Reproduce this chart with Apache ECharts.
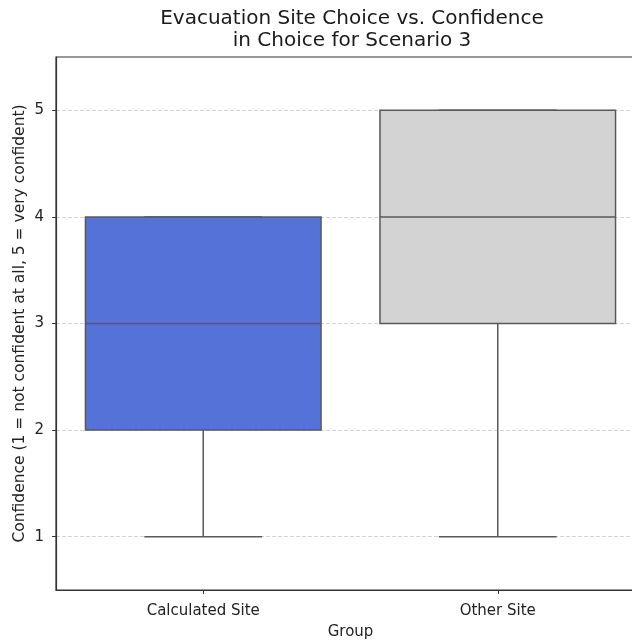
<!DOCTYPE html>
<html>
<head>
<meta charset="utf-8">
<script src="https://cdn.jsdelivr.net/npm/echarts@6/dist/echarts.min.js"></script>
<style>
  html, body { margin: 0; padding: 0; background: #fff; overflow: hidden; }
  /* the drawing surface runs a little past the right window edge, so the plot's right border is off-screen */
  #chart { width: 645px; height: 641px; }
</style>
</head>
<body>
<div id="chart"></div>
<script>
// Groups and their five-number summaries of confidence ratings
const groups = ['Calculated Site', 'Other Site'];
const minValues = [1, 1];
const q1Values = [2, 3];
const medianValues = [3, 4];
const q3Values = [4, 5];
const maxValues = [4, 5];
const boxColors = ['#5572d8', '#d3d3d3'];
const yTicks = [1, 2, 3, 4, 5];

const lineColor = '#595959';
const font = 'DejaVu Sans';

const boxData = groups.map((g, i) => [i, minValues[i], q1Values[i], medianValues[i], q3Values[i], maxValues[i]]);

function renderBox(params, api) {
  const i = api.value(0);
  const catW = api.size([1, 0])[0];
  const boxW = catW * 0.8;
  const capW = boxW * 0.5;
  const pMin = api.coord([i, api.value(1)]);
  const pQ1 = api.coord([i, api.value(2)]);
  const pMed = api.coord([i, api.value(3)]);
  const pQ3 = api.coord([i, api.value(4)]);
  const pMax = api.coord([i, api.value(5)]);
  const cx = pMed[0];
  const stroke = { stroke: lineColor, lineWidth: 1.5 };
  const children = [
    { type: 'line', shape: { x1: cx, y1: pQ1[1], x2: cx, y2: pMin[1] }, style: stroke },
    { type: 'line', shape: { x1: cx - capW / 2, y1: pMin[1], x2: cx + capW / 2, y2: pMin[1] }, style: stroke },
    { type: 'line', shape: { x1: cx, y1: pQ3[1], x2: cx, y2: pMax[1] }, style: stroke },
    { type: 'line', shape: { x1: cx - capW / 2, y1: pMax[1], x2: cx + capW / 2, y2: pMax[1] }, style: stroke },
    { type: 'rect', shape: { x: cx - boxW / 2, y: pQ3[1], width: boxW, height: pQ1[1] - pQ3[1] },
      style: { fill: boxColors[i], stroke: lineColor, lineWidth: 1.5 } },
    { type: 'line', shape: { x1: cx - boxW / 2, y1: pMed[1], x2: cx + boxW / 2, y2: pMed[1] }, style: stroke }
  ];
  return { type: 'group', children: children };
}

const chart = echarts.init(document.getElementById('chart'), null, { renderer: 'canvas' });
chart.setOption({
  animation: false,
  backgroundColor: '#ffffff',
  title: {
    text: 'Evacuation Site Choice vs. Confidence\nin Choice for Scenario 3',
    left: 347,
    textAlign: 'center',
    top: 3,
    textStyle: { fontFamily: font, fontSize: 20, fontWeight: 'normal', color: '#1a1a1a', lineHeight: 22 }
  },
  grid: {
    left: 56, right: 0, top: 57, bottom: 51,
    outerBoundsMode: 'none',
    show: true, borderColor: '#333', borderWidth: 1.2, backgroundColor: 'transparent'
  },
  xAxis: {
    type: 'category',
    data: groups,
    boundaryGap: true,
    name: 'Group',
    nameLocation: 'middle',
    nameGap: 35,
    nameMoveOverlap: false,
    nameTextStyle: { fontFamily: font, fontSize: 15, color: '#222' },
    axisLine: { show: true, lineStyle: { color: '#333', width: 1.2 } },
    axisTick: { show: true, alignWithLabel: true, length: 4, lineStyle: { color: '#333' } },
    axisLabel: { fontFamily: font, fontSize: 15, color: '#222', margin: 14 },
    splitLine: { show: false }
  },
  yAxis: {
    type: 'value',
    min: 0.5,
    max: 5.5,
    name: 'Confidence (1 = not confident at all, 5 = very confident)',
    nameLocation: 'middle',
    nameGap: 28,
    nameMoveOverlap: false,
    nameTextStyle: { fontFamily: font, fontSize: 15.5, color: '#222' },
    axisLine: { show: true, lineStyle: { color: '#333', width: 1.2 } },
    axisTick: { show: true, length: 4, customValues: yTicks, lineStyle: { color: '#333' } },
    axisLabel: { fontFamily: font, fontSize: 15, color: '#222', margin: 12, customValues: yTicks },
    splitLine: { show: true, lineStyle: { color: '#c8c8c8', type: [4, 2], width: 0.8 } }
  },
  series: [{
    type: 'custom',
    renderItem: renderBox,
    encode: { x: 0, y: [1, 2, 3, 4, 5] },
    data: boxData,
    z: 3
  }]
});
</script>
</body>
</html>
